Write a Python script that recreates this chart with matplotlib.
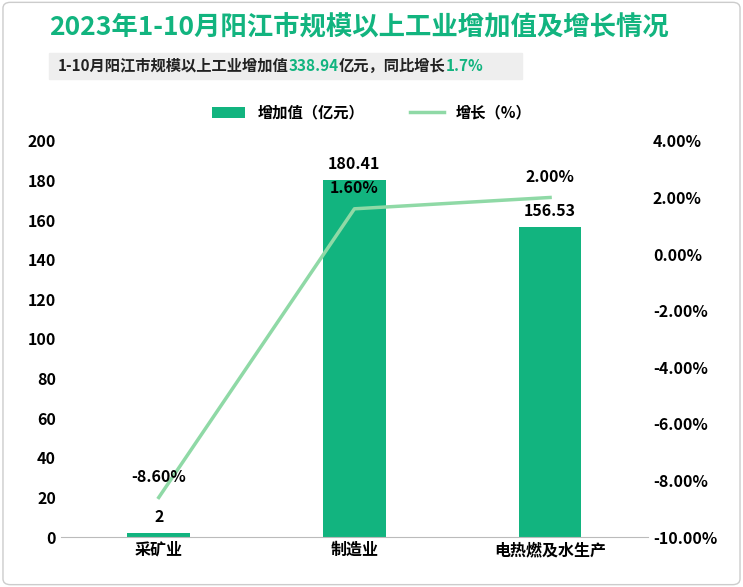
import matplotlib
matplotlib.use("Agg")
import matplotlib.pyplot as plt
from matplotlib import font_manager as fm
from matplotlib.patches import FancyBboxPatch, Rectangle
from matplotlib.offsetbox import HPacker, TextArea, AnchoredOffsetbox

fam = []
for fn in ["/usr/share/fonts/opentype/noto/NotoSansCJK-Regular.ttc", "/usr/share/fonts/opentype/noto/NotoSansCJK-Bold.ttc"]:
    try:
        fm.fontManager.addfont(fn)
        n = fm.FontProperties(fname=fn).get_name()
        if n not in fam:
            fam.append(n)
    except Exception:
        pass
plt.rcParams['font.family'] = fam + ['Noto Sans CJK SC', 'DejaVu Sans']

categories = ["采矿业", "制造业", "电热燃及水生产"]
values = [2, 180.41, 156.53]
growth = [-8.6, 1.6, 2.0]
value_labels = ["2", "180.41", "156.53"]
growth_labels = ["-8.60%", "1.60%", "2.00%"]

W, H = 743, 587
fig = plt.figure(figsize=(W/100, H/100), dpi=100)
fig.patches.append(FancyBboxPatch((0.004, 0.004), 0.992, 0.992, boxstyle="round,pad=0,rounding_size=0.01",
                                  transform=fig.transFigure, fill=False, ec="#cccccc", lw=1))
bar_c = "#12b47f"
line_c = "#8fd9a6"
fig.text(0.066, 0.952, "2023年1-10月阳江市规模以上工业增加值及增长情况", color=bar_c, fontsize=19, fontweight="bold", va="center")
fig.patches.append(Rectangle((0.066, 0.865), 0.636, 0.045, transform=fig.transFigure, color="#eeeeee"))
parts = [("1-10月阳江市规模以上工业增加值", "#222"), ("338.94", bar_c), ("亿元，同比增长", "#222"), ("1.7%", bar_c)]
box = HPacker(children=[TextArea(s, textprops=dict(color=c, fontsize=11, fontweight="bold")) for s, c in parts], pad=0, sep=0)
ab = AnchoredOffsetbox(loc="center left", child=box, bbox_to_anchor=(0.078, 0.888), bbox_transform=fig.transFigure, frameon=False, pad=0, borderpad=0)
fig.add_artist(ab)

ax = fig.add_axes([0.082, 0.085, 0.79, 0.675])
ax2 = ax.twinx()
x = list(range(len(categories)))
bars = ax.bar(x, values, width=0.32, color=bar_c, label="增加值（亿元）")
ax.set_ylim(0, 200)
ax.set_yticks(range(0, 201, 20))
ax.set_xlim(-0.5, 2.5)
ax.set_xticks(x)
ax.set_xticklabels(categories, fontsize=11.5, fontweight="bold")
ln, = ax2.plot(x, growth, color=line_c, lw=2.5, label="增长（%）")
ax2.set_ylim(-10, 4)
ax2.set_yticks(range(-10, 5, 2))
ax2.set_yticklabels([f"{v:.2f}%" for v in range(-10, 5, 2)])
for a in (ax, ax2):
    for s in a.spines.values():
        s.set_visible(False)
    a.tick_params(length=0, labelsize=11.5)
    for lab in a.get_yticklabels():
        lab.set_fontweight("bold")
ax.spines['bottom'].set_visible(True)
ax.spines['bottom'].set_color("#bbbbbb")
for xi, v, l in zip(x, values, value_labels):
    ax.text(xi, v + 4, l, ha="center", va="bottom", fontsize=11.5, fontweight="bold")
for xi, g, l in zip(x, growth, growth_labels):
    ax2.text(xi, g + 0.45, l, ha="center", va="bottom", fontsize=11.5, fontweight="bold")
fig.legend(handles=[bars, ln], loc="center", bbox_to_anchor=(0.5, 0.808), ncol=2, frameon=False,
           prop=dict(size=11, weight="bold"), handlelength=2.2, columnspacing=3)
fig.savefig("out.png", dpi=100)
